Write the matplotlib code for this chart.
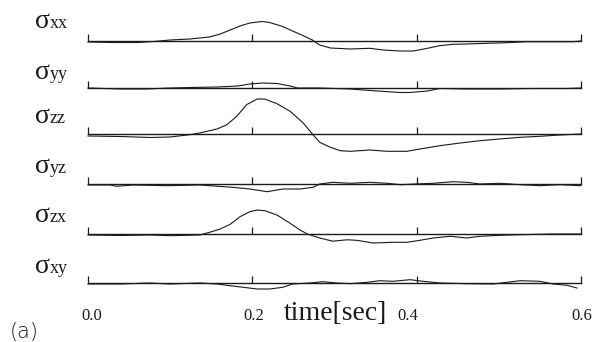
# Stress components vs time, stacked strip chart
import matplotlib
matplotlib.use("Agg")
import matplotlib.pyplot as plt

W, H = 597, 342

labels = ["xx", "yy", "zz", "yz", "zx", "xy"]
tick_vals = [0.0, 0.2, 0.4, 0.6]
tick_labels = ["0.0", "0.2", "0.4", "0.6"]

# time [s] and stress (arbitrary units)
t_xx = [0, 0.03, 0.06, 0.08, 0.1, 0.124, 0.148, 0.161, 0.173, 0.185, 0.197, 0.212, 0.221, 0.237,
        0.249, 0.261, 0.273, 0.282, 0.295, 0.319, 0.343, 0.359, 0.38, 0.396, 0.413, 0.428, 0.444,
        0.461, 0.486, 0.51, 0.534, 0.566, 0.59, 0.6]
s_xx = [-1, -1.5, -1.5, -0.5, 1, 2, 4, 7, 11, 15, 18, 19.5, 18.5, 14.5,
        10, 5.7, 1, -4, -7, -8, -7.3, -9, -10, -10, -7.3, -4.7, -3.3,
        -3, -2.3, -1.7, -0.7, -0.7, -0.7, 0]

t_yy = [0, 0.04, 0.07, 0.1, 0.125, 0.157, 0.182, 0.197, 0.213, 0.23, 0.246, 0.255, 0.282, 0.319,
        0.352, 0.38, 0.392, 0.413, 0.428, 0.461, 0.501, 0.541, 0.583, 0.6]
s_yy = [0, -1, -1, 0, 0.5, 1, 2, 4, 5, 4.5, 2, 0, 0, -1,
        -3, -4.5, -4.5, -3, -0.5, -1, -1, -0.5, -0.5, 0]

t_zz = [0, 0.04, 0.0755, 0.0998, 0.124, 0.136, 0.157, 0.169, 0.181, 0.193, 0.206, 0.215, 0.23,
        0.246, 0.262, 0.273, 0.282, 0.295, 0.307, 0.319, 0.343, 0.364, 0.388, 0.404, 0.428, 0.453,
        0.477, 0.501, 0.526, 0.55, 0.574, 0.6]
s_zz = [-2, -2.5, -3.5, -3, -0.7, 1, 5, 9.3, 17.7, 29.3, 35, 35, 30.3,
        22.7, 11, 0, -8.3, -13.3, -16.7, -17.3, -16, -17.3, -17.3, -15, -11.7, -9,
        -6.7, -5, -3.3, -2.3, -1, 0]

t_yz = [0, 0.027, 0.035, 0.055, 0.096, 0.136, 0.176, 0.197, 0.218, 0.237, 0.258, 0.274, 0.282,
        0.298, 0.319, 0.343, 0.364, 0.38, 0.398, 0.42, 0.444, 0.461, 0.477, 0.501, 0.526, 0.55,
        0.574, 0.6]
s_yz = [-1, -1, -2.3, -1, -1.7, -1, -3.3, -5, -7.7, -5, -5, -3.3, 0,
        1.7, 0.7, 1.7, 0.7, -0.7, 0, 0.7, 2.3, 1.7, 0, 0.7, -0.7, -1.7,
        -0.7, -1.7]

t_zx = [0, 0.04, 0.075, 0.1, 0.136, 0.148, 0.161, 0.173, 0.185, 0.197, 0.206, 0.215, 0.23, 0.246,
        0.258, 0.267, 0.282, 0.298, 0.315, 0.327, 0.347, 0.371, 0.388, 0.404, 0.42, 0.441, 0.461,
        0.477, 0.501, 0.526, 0.566, 0.6]
s_zx = [-1, -1.5, -1, -1.7, -1, 1.7, 5, 9.7, 17.3, 22.3, 24, 23.3, 19, 10.7,
        4, 0, -4, -7.2, -5.8, -6.3, -9, -8.3, -8.3, -6.3, -4, -2.3, -4,
        -2.3, -1.3, -0.7, 0, 0]

t_xy = [0, 0.04, 0.075, 0.1, 0.136, 0.157, 0.173, 0.189, 0.206, 0.221, 0.237, 0.249, 0.27, 0.286,
        0.303, 0.319, 0.34, 0.355, 0.371, 0.392, 0.408, 0.428, 0.461, 0.493, 0.51, 0.526, 0.55,
        0.566, 0.583, 0.595]
s_xy = [-1, -1, 0, -1, 0, -1, -2.7, -4.3, -6, -6, -4.3, -1, 0, 1.3,
        0, -0.7, 0.7, 2.3, 1.7, 3.3, 1.7, 0, -0.7, -1, 0.7, 2.3, 1.7,
        -1, -2.3, -5]

times = [t_xx, t_yy, t_zz, t_yz, t_zx, t_xy]
stress = [s_xx, s_yy, s_zz, s_yz, s_zx, s_xy]

# layout in pixels
baselines = [41, 88, 134, 184, 234, 283]
label_y = [28, 79, 123, 173, 222, 273]
x0, x1 = 88, 581
half = 24

serif = "Liberation Serif"
ink = "#1a1a1a"

fig = plt.figure(figsize=(W / 100, H / 100), dpi=100)

for i, b in enumerate(baselines):
    ax = fig.add_axes([x0 / W, 1 - (b + half) / H, (x1 - x0) / W, 2 * half / H])
    ax.plot(times[i], stress[i], color=ink, lw=0.8, clip_on=False)
    ax.set_xlim(0, 0.6)
    ax.set_ylim(-half, half)
    for s in ["top", "right", "left"]:
        ax.spines[s].set_visible(False)
    ax.spines["bottom"].set_position(("data", 0))
    ax.spines["bottom"].set_linewidth(1.0)
    ax.spines["bottom"].set_color(ink)
    ax.set_xticks(tick_vals)
    ax.tick_params(axis="x", direction="in", length=5, width=0.9, color=ink,
                   labelbottom=False)
    ax.set_yticks([])
    ax.patch.set_visible(False)

    fig.text(35 / W, 1 - label_y[i] / H, "\u03c3", fontsize=20, family=serif,
             va="baseline", ha="left", color=ink)
    fig.text(50 / W, 1 - label_y[i] / H, labels[i], fontsize=13, family=serif,
             va="baseline", ha="left", color=ink)

# tick labels under the last strip
tick_x = [92, 254, 408, 582]
for xp, lab in zip(tick_x, tick_labels):
    fig.text(xp / W, 1 - 320 / H, lab, fontsize=12, family=serif,
             va="baseline", ha="center", color=ink)

fig.text(335 / W, 1 - 320 / H, "time[sec]", fontsize=20, family=serif,
         va="baseline", ha="center", color=ink)
fig.text(10 / W, 1 - 338 / H, "(a)", fontsize=15, family="DejaVu Sans",
         va="baseline", ha="left", color=ink, fontweight="light")

fig.savefig("out.png", dpi=100)
